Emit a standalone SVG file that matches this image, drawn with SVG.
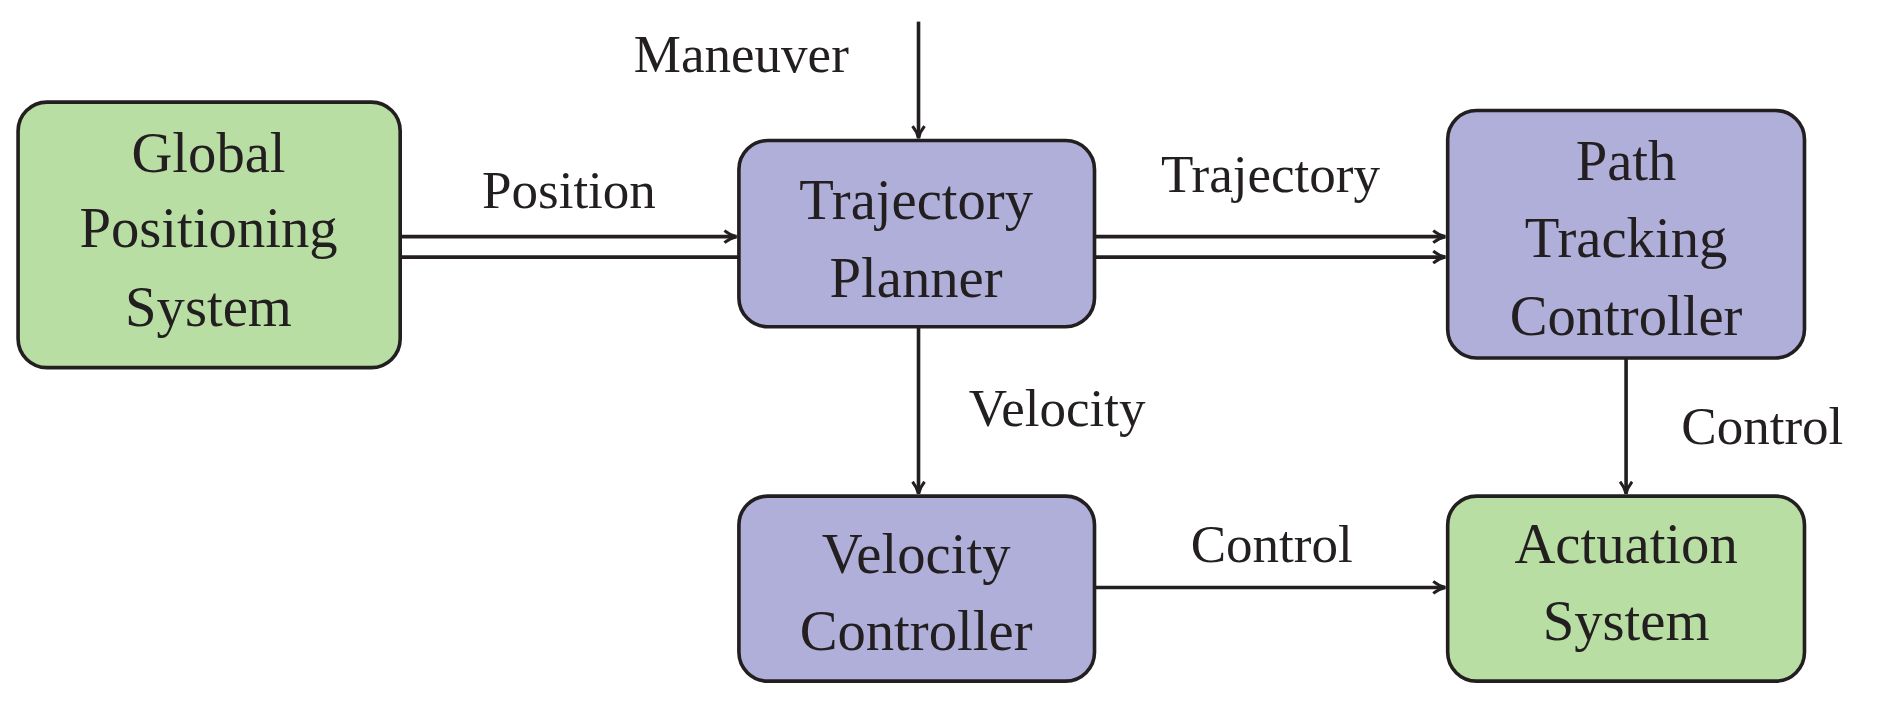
<svg xmlns="http://www.w3.org/2000/svg" width="1890" height="710" viewBox="0 0 1890 710">
<defs>
<style>
.n{stroke:#231f20;stroke-width:3}
.g{fill:#b9dea3}.p{fill:#b0afd9}
text{font-family:"Liberation Serif",serif;fill:#231f20;text-anchor:middle}
.t{font-size:47px}.l{font-size:44px}
.c{stroke:#231f20;stroke-width:3;fill:none}
</style>
<marker id="a" viewBox="0 0 12 12" refX="11" refY="6" markerWidth="12" markerHeight="12" markerUnits="userSpaceOnUse" orient="auto">
<path d="M1,1 Q6,5 11,6 Q6,7 1,11" fill="none" stroke="#231f20" stroke-width="2.5"/>
</marker>
</defs>
<rect width="1890" height="710" fill="#fff"/>
<g transform="scale(1.2054,1.2013)">
<g id="connectors">
<line class="c" x1="332" y1="197" x2="611" y2="197" marker-end="url(#a)"/>
<line class="c" x1="332" y1="214" x2="613" y2="214"/>
<line class="c" x1="908" y1="197" x2="1199" y2="197" marker-end="url(#a)"/>
<line class="c" x1="908" y1="214" x2="1199" y2="214" marker-end="url(#a)"/>
<line class="c" x1="762" y1="18" x2="762" y2="115" marker-end="url(#a)"/>
<line class="c" x1="762" y1="272" x2="762" y2="411" marker-end="url(#a)"/>
<line class="c" x1="1349" y1="298" x2="1349" y2="411" marker-end="url(#a)"/>
<line class="c" x1="908" y1="489" x2="1199" y2="489" marker-end="url(#a)"/>
<text class="l" x="615" y="60" style="text-anchor:middle">Maneuver</text>
<text class="l" x="472" y="173">Position</text>
<text class="l" x="1054" y="160">Trajectory</text>
<text class="l" x="877" y="355">Velocity</text>
<text class="l" x="1462" y="370">Control</text>
<text class="l" x="1055" y="468">Control</text>
</g>
<g id="gps"><rect class="n g" x="15" y="85" width="317" height="221" rx="24"/>
<text class="t" x="173" y="143">Global</text><text class="t" x="173" y="206">Positioning</text><text class="t" x="173" y="271">System</text></g>
<g id="planner"><rect class="n p" x="613" y="117" width="295" height="155" rx="24"/>
<text class="t" x="760" y="182">Trajectory</text><text class="t" x="760" y="247">Planner</text></g>
<g id="ptc"><rect class="n p" x="1201" y="92" width="296" height="206" rx="24"/>
<text class="t" x="1349" y="150">Path</text><text class="t" x="1349" y="214">Tracking</text><text class="t" x="1349" y="279">Controller</text></g>
<g id="vc"><rect class="n p" x="613" y="413" width="295" height="154" rx="24"/>
<text class="t" x="760" y="477">Velocity</text><text class="t" x="760" y="541">Controller</text></g>
<g id="act"><rect class="n g" x="1201" y="413" width="296" height="154" rx="24"/>
<text class="t" x="1349" y="469">Actuation</text><text class="t" x="1349" y="533">System</text></g>
</g>
</svg>
